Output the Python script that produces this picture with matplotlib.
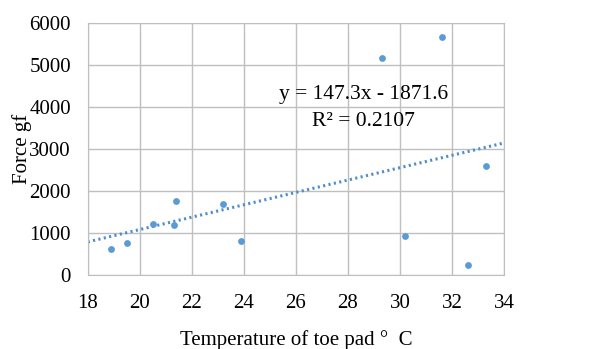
import numpy as np
import matplotlib
matplotlib.use("Agg")
import matplotlib.pyplot as plt

# --- data ---
temperature = [18.9, 19.5, 20.5, 21.3, 21.4, 23.2, 23.9, 29.3, 30.2, 31.6, 32.6, 33.3]
force = [600, 760, 1210, 1190, 1760, 1680, 790, 5170, 920, 5670, 240, 2590]
slope = 147.3
intercept = -1871.6
r_squared = 0.2107
x_ticks = [18, 20, 22, 24, 26, 28, 30, 32, 34]
y_ticks = [0, 1000, 2000, 3000, 4000, 5000, 6000]

plt.rcParams['font.family'] = ['Liberation Serif', 'DejaVu Serif']
blue = "#5b9bd5"

fig = plt.figure(figsize=(6.11, 3.49), dpi=100)
ax = fig.add_axes([0.1435, 0.213, 0.6815, 0.722])

ax.scatter(temperature, force, s=24, color=blue, zorder=3, linewidths=0)

# linear trendline
xs = np.array([x_ticks[0], x_ticks[-1]])
ax.plot(xs, slope * xs + intercept, color="#4f8fc9", lw=2.2, linestyle=(0, (0.7, 1.1)), zorder=2)

ax.text(28.6, 4290, f"y = {slope}x - {abs(intercept)}", ha="center", va="center", fontsize=15.5)
ax.text(28.6, 3640, f"R² = {r_squared}", ha="center", va="center", fontsize=15.5)

ax.set_xlim(x_ticks[0], x_ticks[-1])
ax.set_ylim(y_ticks[0], y_ticks[-1])
ax.set_xticks(x_ticks)
ax.set_yticks(y_ticks)
ax.grid(True, color="#bfbfbf", lw=1)
ax.set_axisbelow(True)
for s in ax.spines.values():
    s.set_color("#bfbfbf")
ax.tick_params(length=0, labelsize=15)
ax.tick_params(axis="x", pad=14)
ax.tick_params(axis="y", pad=12)

ax.set_xlabel("Temperature of toe pad \u00b0  C", fontsize=15, labelpad=12)
ax.set_ylabel("Force gf", fontsize=15, labelpad=-2)

fig.savefig("out.png", dpi=100)
